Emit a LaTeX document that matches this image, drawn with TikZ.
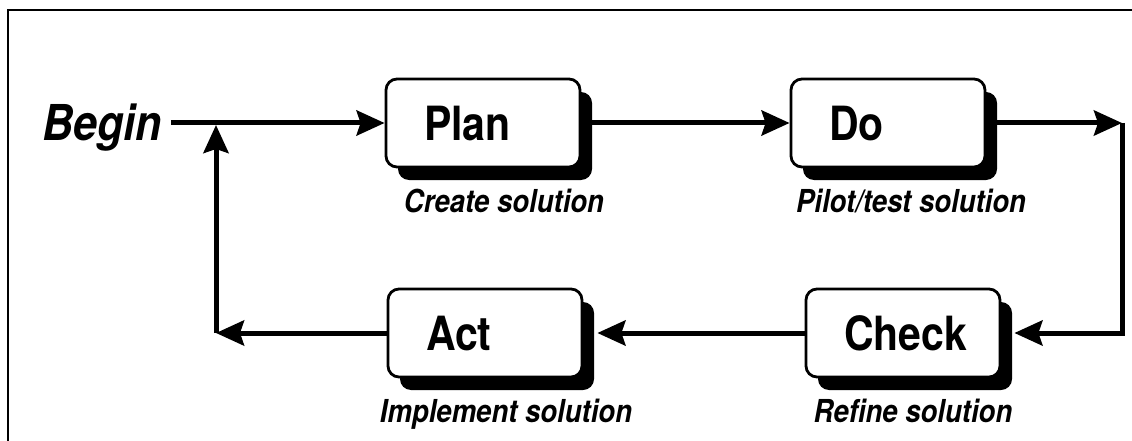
\documentclass[tikz,border=0pt]{standalone}
\usepackage{fontspec}
\setmainfont{TeX Gyre Heros}
\usepackage{graphicx}
\usetikzlibrary{arrows.meta,shadows}
\newcommand\vstretch[1]{\scalebox{1}[1.15]{#1}}
\begin{document}
\begin{tikzpicture}[x=1pt,y=-1pt,
  frame/.style={line width=2pt},
  conn/.style={line width=5pt, line join=miter, -{Stealth[length=28pt 0,width=25pt 0,inset=4pt 0]}},
  box/.style={draw, line width=2.8pt, rounded corners=11pt, fill=white,
    minimum width=194pt, minimum height=88pt, inner xsep=38pt, inner ysep=0pt,
    text width=118pt, align=left, text height=34pt, text depth=0pt,
    font=\fontsize{41}{45}\selectfont\bfseries,
    drop shadow={shadow xshift=12pt, shadow yshift=-13pt, opacity=1, fill=black}},
  sub/.style={anchor=base, inner sep=0pt, font=\fontsize{27.5}{30}\selectfont\bfseries\itshape},
  title/.style={anchor=base west, inner sep=0pt, font=\fontsize{43}{46}\selectfont\bfseries\itshape}]

\useasboundingbox (0,0) rectangle (1132,441);
\fill[white] (0,0) rectangle (1132,441);

% frame
\coordinate (FB) at (8,441);
\coordinate (FL) at (8,10);
\coordinate (FR) at (1132,10);
\draw[frame] (FB) -- (FL) -- (FR);

% nodes
\node[title] (begin) at (42,141) {\vstretch{Begin}};
\node[box] (plan)  at (483,123) {\vstretch{Plan}};
\node[box] (do)    at (888,123) {\vstretch{Do}};
\node[box] (act)   at (485,333) {\vstretch{Act}};
\node[box] (check) at (903,333) {\vstretch{Check}};

\node[sub] (lplan)  at (504,212) {\vstretch{Create solution}};
\node[sub] (ldo)    at (911,212) {\vstretch{Pilot/test solution}};
\node[sub] (lact)   at (506,422) {\vstretch{Implement solution}};
\node[sub] (lcheck) at (913,422) {\vstretch{Refine solution}};

% junctions
\coordinate (J)  at (216,123);
\coordinate (LB) at (216,333);
\coordinate (R1) at (1122,123);
\coordinate (R2) at (1122,333);

% connectors
\draw[conn] ([xshift=9pt]begin.east |- plan.west) -- (plan.west);
\draw[conn] (plan.east) -- (do.west);
\draw[conn] (do.east) -- (R1);
\draw[conn, shorten >=13pt] (R1) -- (R2) -- (check.east);
\draw[conn, shorten >=14pt] (check.west) -- (act.east);
\draw[conn] (act.west) -- (LB);
\draw[conn, shorten >=2pt] (LB) -- (J);
\end{tikzpicture}
\end{document}
